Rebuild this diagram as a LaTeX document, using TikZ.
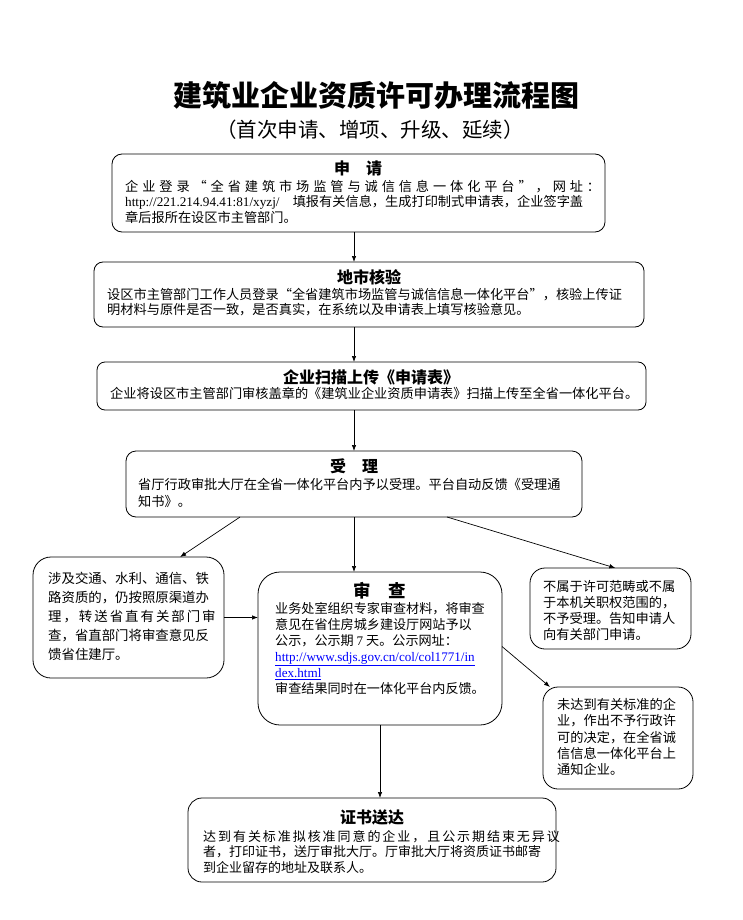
\documentclass[tikz,border=0pt]{standalone}
\usepackage{fontspec}
\setmainfont{Noto Sans CJK SC}
\newfontfamily\latin{Liberation Serif}
\usepackage{tikz}
\usetikzlibrary{arrows.meta,calc}

\tikzset{
  box/.style={draw, line width=0.8pt, inner sep=0pt, outer sep=0pt},
  head/.style={font=\fontsize{16}{18}\selectfont\bfseries, inner sep=0pt},
  body/.style={align=left, anchor=north west, inner sep=0pt, font=\fontsize{13.2}{15.5}\selectfont},
  arr/.style={-{Latex[length=6pt,width=4.5pt]}, line width=0.7pt}
}

\begin{document}
\begin{tikzpicture}[x=1pt,y=-1pt]
            \useasboundingbox (0,0) rectangle (743,920);
            \node[inner sep=0pt] (title) at (376,95) {\fontsize{29}{31}\selectfont\bfseries 建筑业企业资质许可办理流程图};
            \node[inner sep=0pt] (subtitle) at (370,130) {\fontsize{20.5}{22}\selectfont （首次申请、增项、升级、延续）};

            \node[box, rounded corners=10pt, minimum width=493pt, minimum height=78pt] (shenqing) at (358.5,193) {};
            \node[box, rounded corners=9pt, minimum width=550pt, minimum height=65pt] (dishi) at (369,294.5) {};
            \node[box, rounded corners=8pt, minimum width=549pt, minimum height=48pt] (saomiao) at (371.5,386) {};
            \node[box, rounded corners=10pt, minimum width=456pt, minimum height=66pt] (shouli) at (354,484) {};
            \node[box, rounded corners=18pt, minimum width=191pt, minimum height=121pt] (sheji) at (128.5,617.5) {};
            \node[box, rounded corners=22pt, minimum width=244pt, minimum height=153pt] (shencha) at (380,648.5) {};
            \node[box, rounded corners=15pt, minimum width=161pt, minimum height=81pt] (buhe) at (610.5,608.5) {};
            \node[box, rounded corners=15pt, minimum width=150pt, minimum height=102pt] (weida) at (618,738) {};
            \node[box, rounded corners=14pt, minimum width=368pt, minimum height=84pt] (zhengshu) at (372,840) {};

            \node[head] at (358,168) {申\quad 请};
            \node[body] at (125,180) {\makebox[475pt][s]{企 业 登 录 “ 全 省 建 筑 市 场 监 管 与 诚 信 信 息 一 体 化 平 台 ” ， 网 址 ：}\\
              {\latin http://221.214.94.41:81/xyzj/}\quad 填报有关信息，生成打印制式申请表，企业签字盖\\
              章后报所在设区市主管部门。};

            \node[head] at (369,277) {地市核验};
            \node[body] at (107,288) {设区市主管部门工作人员登录“全省建筑市场监管与诚信信息一体化平台”，核验上传证\\
              明材料与原件是否一致，是否真实，在系统以及申请表上填写核验意见。};

            \node[head] at (371,377) {企业扫描上传《申请表》};
            \node[body] at (110,387) {企业将设区市主管部门审核盖章的《建筑业企业资质申请表》扫描上传至全省一体化平台。};

            \node[head] at (354,466) {受\quad 理};
            \node[body, font=\fontsize{13.2}{17}\selectfont] at (138,478) {省厅行政审批大厅在全省一体化平台内予以受理。平台自动反馈《受理通\\
              知书》。};

            \node[body, font=\fontsize{13.4}{19}\selectfont] at (48,572) {涉及交通、水利、通信、铁\\
              路资质的，仍按照原渠道办\\
              \makebox[160.8pt][s]{理 ， 转 送 省 直 有 关 部 门 审}\\
              查，省直部门将审查意见反\\
              馈省住建厅。};

            \node[head, font=\fontsize{17.5}{19}\selectfont\bfseries] at (380,591) {审\quad 查};
            \node[body, font=\fontsize{13.1}{16}\selectfont] at (275,602) {业务处室组织专家审查材料，将审查\\
              意见在省住房城乡建设厅网站予以\\
              公示，公示期 {\latin 7} 天。公示网址：\\
              {\latin\color{blue}\underline{http://www.sdjs.gov.cn/col/col1771/in}}\\
              {\latin\color{blue}\underline{dex.html}}\\
              审查结果同时在一体化平台内反馈。};

            \node[body, font=\fontsize{13.2}{16}\selectfont] at (543,580) {不属于许可范畴或不属\\
              于本机关职权范围的，\\
              不予受理。告知申请人\\
              向有关部门申请。};

            \node[body, font=\fontsize{13.2}{16.3}\selectfont] at (557,698) {未达到有关标准的企\\
              业，作出不予行政许\\
              可的决定，在全省诚\\
              信信息一体化平台上\\
              通知企业。};

            \node[head] at (372,817) {证书送达};
            \node[body, font=\fontsize{13}{15.5}\selectfont] at (203,830) {\makebox[338pt][s]{达 到 有 关 标 准 拟 核 准 同 意 的 企 业 ， 且 公 示 期 结 束 无 异 议}\\
              者，打印证书，送厅审批大厅。厅审批大厅将资质证书邮寄\\
              到企业留存的地址及联系人。};

            \draw[arr] (shenqing.south -| shouli) -- (dishi.north -| shouli);
            \draw[arr] (dishi.south -| shouli) -- (saomiao.north -| shouli);
            \draw[arr] (saomiao.south -| shouli) -- (shouli.north);
            \draw[arr] ($(shouli.south west)!0.25!(shouli.south east)$) -- ($(sheji.north west)!0.77!(sheji.north east)$);
            \draw[arr] (shouli.south) -- (shouli.south |- shencha.north);
            \draw[arr] ($(shouli.south west)!0.704!(shouli.south east)$) -- ($(buhe.north west)!0.53!(buhe.north east)$);
            \draw[arr] (sheji.east) -- (shencha.west |- sheji.east);
            \draw[arr] ($(shencha.east)+(0,-2)$) -- ($(weida.north west)+(7,0)$);
            \draw[arr] (shencha.south) -- (shencha.south |- zhengshu.north);
        \end{tikzpicture}
\end{document}
